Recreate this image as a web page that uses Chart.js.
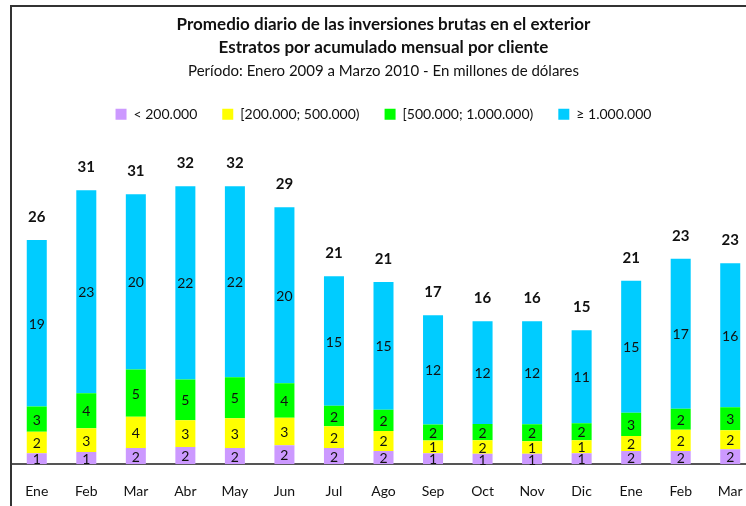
<!DOCTYPE html>
<html>
<head>
<meta charset="utf-8">
<script src="https://cdn.jsdelivr.net/npm/chart.js@4/dist/chart.umd.min.js"></script>
<style>
  html, body { margin: 0; padding: 0; background: #fff; overflow: hidden; width: 746px; height: 506px; }
  #frame { position: absolute; left: 10px; top: 5px; width: 760px; height: 540px;
           border-left: 2px solid #333; border-top: 2px solid #333; }
  #c { position: absolute; left: 0; top: 0; }
</style>
</head>
<body>
<div id="frame"><canvas id="c" width="746" height="501"></canvas></div>
<script>
const categories = ["Ene","Feb","Mar","Abr","May","Jun","Jul","Ago","Sep","Oct","Nov","Dic","Ene","Feb","Mar"];
const seriesNames = ["< 200.000", "[200.000; 500.000)", "[500.000; 1.000.000)", "\u2265 1.000.000"];
const menos200k   = [1.26, 1.40, 1.86, 1.97, 1.86, 2.17, 1.86, 1.52, 1.26, 1.18, 1.18, 1.26, 1.52, 1.52, 1.71];
const de200a500k  = [2.45, 2.71, 3.55, 3.05, 3.39, 3.12, 2.48, 2.28, 1.45, 1.56, 1.45, 1.48, 1.71, 2.40, 2.17];
const de500ka1m   = [2.89, 4.00, 5.40, 4.65, 4.68, 3.96, 2.32, 2.43, 1.83, 1.86, 1.94, 1.94, 2.63, 2.40, 2.63];
const mas1m       = [19.00, 23.17, 20.01, 22.07, 21.80, 20.09, 14.80, 14.58, 12.45, 11.72, 11.76, 10.62, 15.07, 17.12, 16.44];
const seriesColors = ["#CC99FF", "#FFFF00", "#00FF00", "#00CCFF"];

const FONT = "Lato, 'Open Sans', sans-serif";

const labelPlugin = {
  id: 'barLabels',
  afterDatasetsDraw(chart) {
    const ctx = chart.ctx;
    ctx.save();
    ctx.fillStyle = '#111';
    ctx.textAlign = 'center';
    ctx.textBaseline = 'middle';
    ctx.font = "14px " + FONT;
    chart.data.datasets.forEach((ds, i) => {
      const meta = chart.getDatasetMeta(i);
      meta.data.forEach((el, j) => {
        const v = ds.data[j];
        ctx.fillText(String(Math.round(v)), el.x, (el.y + el.base) / 2 + 1);
      });
    });
    ctx.font = "bold 15px " + FONT;
    const last = chart.getDatasetMeta(chart.data.datasets.length - 1);
    last.data.forEach((el, j) => {
      let total = 0;
      chart.data.datasets.forEach(ds => total += ds.data[j]);
      ctx.fillText(String(Math.round(total)), el.x, el.y - 23);
    });
    ctx.restore();
  }
};

const seriesData = [menos200k, de200a500k, de500ka1m, mas1m];

new Chart(document.getElementById('c'), {
  type: 'bar',
  data: {
    labels: categories,
    datasets: seriesData.map((d, i) => ({
      label: seriesNames[i],
      data: d,
      backgroundColor: seriesColors[i],
      borderWidth: 0,
      categoryPercentage: 1.0,
      barPercentage: 0.404
    }))
  },
  options: {
    responsive: false,
    animation: false,
    devicePixelRatio: 1,
    layout: { padding: { left: 0, right: 3, top: 0, bottom: 6 } },
    plugins: {
      title: {
        display: true,
        text: ["Promedio diario de las inversiones brutas en el exterior", "Estratos por acumulado mensual por cliente"],
        color: '#111',
        font: { family: FONT, size: 17, weight: 'bold', lineHeight: 1.37 },
        padding: { top: 5.5, bottom: 0 }
      },
      subtitle: {
        display: true,
        text: "Período: Enero 2009 a Marzo 2010 - En millones de dólares",
        color: '#111',
        font: { family: FONT, size: 15, weight: 'normal', lineHeight: 1.55 },
        padding: { top: 0, bottom: 0 }
      },
      legend: {
        display: true,
        position: 'top',
        labels: {
          boxWidth: 11, boxHeight: 11, padding: 25,
          color: '#111',
          font: { family: FONT, size: 14 }
        }
      },
      tooltip: { enabled: false }
    },
    scales: {
      x: {
        stacked: true,
        grid: { display: true, drawOnChartArea: false, drawTicks: true, tickLength: 17, tickColor: 'rgba(0,0,0,0)' },
        border: { display: true, color: '#555', width: 2 },
        ticks: { color: '#111', font: { family: FONT, size: 14 }, padding: 2, maxRotation: 0, autoSkip: false }
      },
      y: {
        stacked: true,
        display: false,
        min: 0,
        max: 38
      }
    }
  },
  plugins: [labelPlugin]
});
</script>
</body>
</html>
